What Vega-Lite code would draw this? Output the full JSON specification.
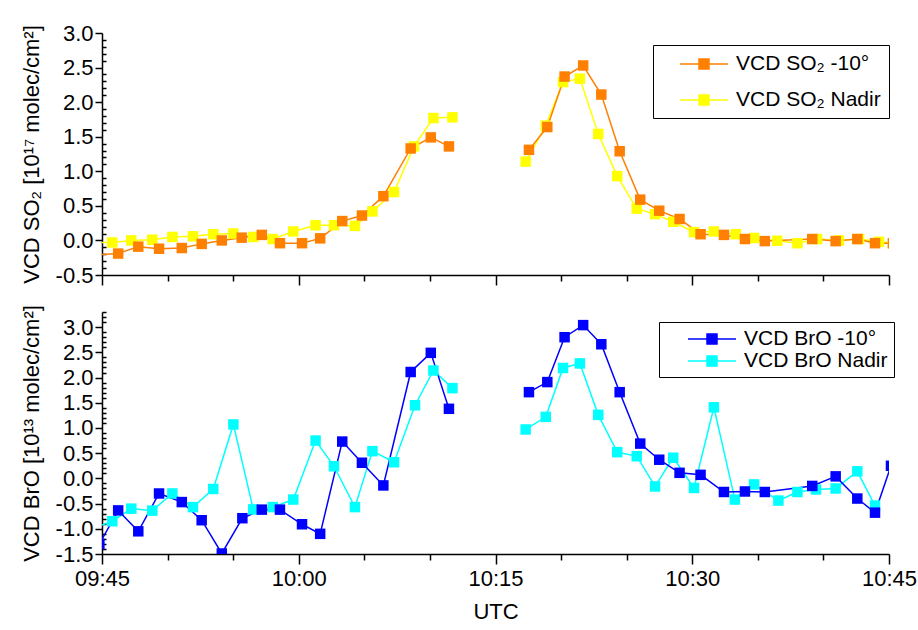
{
  "$schema": "https://vega.github.io/schema/vega-lite/v6.json",
  "background": "white",
  "padding": {"left": 20, "top": 22, "right": 5, "bottom": 5},
  "spacing": 15,
  "config": {
    "view": {"stroke": null},
    "font": "Liberation Sans",
    "axis": {
      "domainColor": "black", "domainWidth": 1.5, "tickColor": "black", "tickWidth": 1.5,
      "labelColor": "black", "titleColor": "black", "labelFontSize": 22, "titleFontSize": 22,
      "titleFontWeight": "normal", "labelFont": "Liberation Sans", "titleFont": "Liberation Sans",
      "grid": false, "labelOverlap": false, "labelFlush": false, "labelBound": false
    },
    "legend": {
      "labelFont": "Liberation Sans", "labelFontSize": 21, "labelColor": "black", "labelLimit": 400,
      "strokeColor": "black", "fillColor": "white", "padding": 8, "orient": "none",
      "symbolType": "M-2.4,0H-0.5M0.5,0H2.4M-0.5,-0.5H0.5V0.5H-0.5Z", "symbolSize": 400,
      "symbolStrokeWidth": 1.5, "symbolOpacity": 1, "symbolOffset": 32, "labelOffset": 21
    }
  },
  "datasets": {
    "so2": [
      {"s":"VCD SO₂ Nadir","g":1,"t":"2024-01-01T09:44:30","v":-0.03},
      {"s":"VCD SO₂ Nadir","g":1,"t":"2024-01-01T09:45:47","v":-0.03},
      {"s":"VCD SO₂ Nadir","g":1,"t":"2024-01-01T09:47:14","v":0.0},
      {"s":"VCD SO₂ Nadir","g":1,"t":"2024-01-01T09:48:50","v":0.01},
      {"s":"VCD SO₂ Nadir","g":1,"t":"2024-01-01T09:50:22","v":0.05},
      {"s":"VCD SO₂ Nadir","g":1,"t":"2024-01-01T09:51:56","v":0.06},
      {"s":"VCD SO₂ Nadir","g":1,"t":"2024-01-01T09:53:29","v":0.09},
      {"s":"VCD SO₂ Nadir","g":1,"t":"2024-01-01T09:55:01","v":0.10},
      {"s":"VCD SO₂ Nadir","g":1,"t":"2024-01-01T09:56:32","v":0.05},
      {"s":"VCD SO₂ Nadir","g":1,"t":"2024-01-01T09:58:01","v":0.02},
      {"s":"VCD SO₂ Nadir","g":1,"t":"2024-01-01T09:59:35","v":0.13},
      {"s":"VCD SO₂ Nadir","g":1,"t":"2024-01-01T10:01:17","v":0.22},
      {"s":"VCD SO₂ Nadir","g":1,"t":"2024-01-01T10:02:41","v":0.22},
      {"s":"VCD SO₂ Nadir","g":1,"t":"2024-01-01T10:04:17","v":0.21},
      {"s":"VCD SO₂ Nadir","g":1,"t":"2024-01-01T10:05:37","v":0.42},
      {"s":"VCD SO₂ Nadir","g":1,"t":"2024-01-01T10:07:16","v":0.70},
      {"s":"VCD SO₂ Nadir","g":1,"t":"2024-01-01T10:08:47","v":1.36},
      {"s":"VCD SO₂ Nadir","g":1,"t":"2024-01-01T10:10:16","v":1.77},
      {"s":"VCD SO₂ Nadir","g":1,"t":"2024-01-01T10:11:43","v":1.78},
      {"s":"VCD SO₂ Nadir","g":2,"t":"2024-01-01T10:17:18","v":1.14},
      {"s":"VCD SO₂ Nadir","g":2,"t":"2024-01-01T10:18:50","v":1.66},
      {"s":"VCD SO₂ Nadir","g":2,"t":"2024-01-01T10:20:09","v":2.29},
      {"s":"VCD SO₂ Nadir","g":2,"t":"2024-01-01T10:21:26","v":2.34},
      {"s":"VCD SO₂ Nadir","g":2,"t":"2024-01-01T10:22:50","v":1.54},
      {"s":"VCD SO₂ Nadir","g":2,"t":"2024-01-01T10:24:17","v":0.93},
      {"s":"VCD SO₂ Nadir","g":2,"t":"2024-01-01T10:25:46","v":0.46},
      {"s":"VCD SO₂ Nadir","g":2,"t":"2024-01-01T10:27:10","v":0.38},
      {"s":"VCD SO₂ Nadir","g":2,"t":"2024-01-01T10:28:33","v":0.27},
      {"s":"VCD SO₂ Nadir","g":2,"t":"2024-01-01T10:30:08","v":0.12},
      {"s":"VCD SO₂ Nadir","g":2,"t":"2024-01-01T10:31:39","v":0.13},
      {"s":"VCD SO₂ Nadir","g":2,"t":"2024-01-01T10:33:19","v":0.09},
      {"s":"VCD SO₂ Nadir","g":2,"t":"2024-01-01T10:34:43","v":0.035},
      {"s":"VCD SO₂ Nadir","g":2,"t":"2024-01-01T10:36:29","v":-0.005},
      {"s":"VCD SO₂ Nadir","g":2,"t":"2024-01-01T10:38:01","v":-0.04},
      {"s":"VCD SO₂ Nadir","g":2,"t":"2024-01-01T10:39:31","v":0.02},
      {"s":"VCD SO₂ Nadir","g":2,"t":"2024-01-01T10:41:11","v":0.0},
      {"s":"VCD SO₂ Nadir","g":2,"t":"2024-01-01T10:42:43","v":0.02},
      {"s":"VCD SO₂ Nadir","g":2,"t":"2024-01-01T10:44:14","v":-0.02},
      {"s":"VCD SO₂ Nadir","g":2,"t":"2024-01-01T10:45:18","v":-0.04},
      {"s":"VCD SO₂ -10°","g":1,"t":"2024-01-01T09:44:30","v":-0.21},
      {"s":"VCD SO₂ -10°","g":1,"t":"2024-01-01T09:46:14","v":-0.19},
      {"s":"VCD SO₂ -10°","g":1,"t":"2024-01-01T09:47:46","v":-0.09},
      {"s":"VCD SO₂ -10°","g":1,"t":"2024-01-01T09:49:21","v":-0.12},
      {"s":"VCD SO₂ -10°","g":1,"t":"2024-01-01T09:51:05","v":-0.11},
      {"s":"VCD SO₂ -10°","g":1,"t":"2024-01-01T09:52:36","v":-0.05},
      {"s":"VCD SO₂ -10°","g":1,"t":"2024-01-01T09:54:08","v":0.0},
      {"s":"VCD SO₂ -10°","g":1,"t":"2024-01-01T09:55:39","v":0.04},
      {"s":"VCD SO₂ -10°","g":1,"t":"2024-01-01T09:57:11","v":0.08},
      {"s":"VCD SO₂ -10°","g":1,"t":"2024-01-01T09:58:34","v":-0.04},
      {"s":"VCD SO₂ -10°","g":1,"t":"2024-01-01T10:00:15","v":-0.04},
      {"s":"VCD SO₂ -10°","g":1,"t":"2024-01-01T10:01:38","v":0.03},
      {"s":"VCD SO₂ -10°","g":1,"t":"2024-01-01T10:03:19","v":0.28},
      {"s":"VCD SO₂ -10°","g":1,"t":"2024-01-01T10:04:49","v":0.36},
      {"s":"VCD SO₂ -10°","g":1,"t":"2024-01-01T10:06:27","v":0.64},
      {"s":"VCD SO₂ -10°","g":1,"t":"2024-01-01T10:08:32","v":1.33},
      {"s":"VCD SO₂ -10°","g":1,"t":"2024-01-01T10:10:04","v":1.49},
      {"s":"VCD SO₂ -10°","g":1,"t":"2024-01-01T10:11:27","v":1.36},
      {"s":"VCD SO₂ -10°","g":2,"t":"2024-01-01T10:17:33","v":1.31},
      {"s":"VCD SO₂ -10°","g":2,"t":"2024-01-01T10:18:57","v":1.64},
      {"s":"VCD SO₂ -10°","g":2,"t":"2024-01-01T10:20:16","v":2.37},
      {"s":"VCD SO₂ -10°","g":2,"t":"2024-01-01T10:21:41","v":2.53},
      {"s":"VCD SO₂ -10°","g":2,"t":"2024-01-01T10:23:04","v":2.11},
      {"s":"VCD SO₂ -10°","g":2,"t":"2024-01-01T10:24:28","v":1.29},
      {"s":"VCD SO₂ -10°","g":2,"t":"2024-01-01T10:26:02","v":0.59},
      {"s":"VCD SO₂ -10°","g":2,"t":"2024-01-01T10:27:29","v":0.43},
      {"s":"VCD SO₂ -10°","g":2,"t":"2024-01-01T10:29:02","v":0.31},
      {"s":"VCD SO₂ -10°","g":2,"t":"2024-01-01T10:30:38","v":0.09},
      {"s":"VCD SO₂ -10°","g":2,"t":"2024-01-01T10:32:25","v":0.08},
      {"s":"VCD SO₂ -10°","g":2,"t":"2024-01-01T10:34:01","v":0.02},
      {"s":"VCD SO₂ -10°","g":2,"t":"2024-01-01T10:35:32","v":-0.01},
      {"s":"VCD SO₂ -10°","g":2,"t":"2024-01-01T10:39:09","v":0.02},
      {"s":"VCD SO₂ -10°","g":2,"t":"2024-01-01T10:40:56","v":-0.01},
      {"s":"VCD SO₂ -10°","g":2,"t":"2024-01-01T10:42:35","v":0.02},
      {"s":"VCD SO₂ -10°","g":2,"t":"2024-01-01T10:43:56","v":-0.04},
      {"s":"VCD SO₂ -10°","g":2,"t":"2024-01-01T10:45:18","v":-0.04}
    ],
    "bro": [
      {"s":"VCD BrO Nadir","g":1,"t":"2024-01-01T09:44:30","v":-0.97},
      {"s":"VCD BrO Nadir","g":1,"t":"2024-01-01T09:45:47","v":-0.85},
      {"s":"VCD BrO Nadir","g":1,"t":"2024-01-01T09:47:14","v":-0.60},
      {"s":"VCD BrO Nadir","g":1,"t":"2024-01-01T09:48:50","v":-0.64},
      {"s":"VCD BrO Nadir","g":1,"t":"2024-01-01T09:50:22","v":-0.30},
      {"s":"VCD BrO Nadir","g":1,"t":"2024-01-01T09:51:56","v":-0.57},
      {"s":"VCD BrO Nadir","g":1,"t":"2024-01-01T09:53:29","v":-0.21},
      {"s":"VCD BrO Nadir","g":1,"t":"2024-01-01T09:55:01","v":1.07},
      {"s":"VCD BrO Nadir","g":1,"t":"2024-01-01T09:56:32","v":-0.615},
      {"s":"VCD BrO Nadir","g":1,"t":"2024-01-01T09:58:01","v":-0.57},
      {"s":"VCD BrO Nadir","g":1,"t":"2024-01-01T09:59:35","v":-0.42},
      {"s":"VCD BrO Nadir","g":1,"t":"2024-01-01T10:01:17","v":0.75},
      {"s":"VCD BrO Nadir","g":1,"t":"2024-01-01T10:02:41","v":0.24},
      {"s":"VCD BrO Nadir","g":1,"t":"2024-01-01T10:04:17","v":-0.57},
      {"s":"VCD BrO Nadir","g":1,"t":"2024-01-01T10:05:37","v":0.54},
      {"s":"VCD BrO Nadir","g":1,"t":"2024-01-01T10:07:16","v":0.32},
      {"s":"VCD BrO Nadir","g":1,"t":"2024-01-01T10:08:52","v":1.45},
      {"s":"VCD BrO Nadir","g":1,"t":"2024-01-01T10:10:16","v":2.14},
      {"s":"VCD BrO Nadir","g":1,"t":"2024-01-01T10:11:43","v":1.79},
      {"s":"VCD BrO Nadir","g":2,"t":"2024-01-01T10:17:18","v":0.97},
      {"s":"VCD BrO Nadir","g":2,"t":"2024-01-01T10:18:50","v":1.22},
      {"s":"VCD BrO Nadir","g":2,"t":"2024-01-01T10:20:09","v":2.19},
      {"s":"VCD BrO Nadir","g":2,"t":"2024-01-01T10:21:26","v":2.28},
      {"s":"VCD BrO Nadir","g":2,"t":"2024-01-01T10:22:50","v":1.26},
      {"s":"VCD BrO Nadir","g":2,"t":"2024-01-01T10:24:17","v":0.52},
      {"s":"VCD BrO Nadir","g":2,"t":"2024-01-01T10:25:46","v":0.44},
      {"s":"VCD BrO Nadir","g":2,"t":"2024-01-01T10:27:10","v":-0.16},
      {"s":"VCD BrO Nadir","g":2,"t":"2024-01-01T10:28:33","v":0.41},
      {"s":"VCD BrO Nadir","g":2,"t":"2024-01-01T10:30:08","v":-0.19},
      {"s":"VCD BrO Nadir","g":2,"t":"2024-01-01T10:31:39","v":1.41},
      {"s":"VCD BrO Nadir","g":2,"t":"2024-01-01T10:33:15","v":-0.42},
      {"s":"VCD BrO Nadir","g":2,"t":"2024-01-01T10:34:43","v":-0.12},
      {"s":"VCD BrO Nadir","g":2,"t":"2024-01-01T10:36:34","v":-0.44},
      {"s":"VCD BrO Nadir","g":2,"t":"2024-01-01T10:38:01","v":-0.27},
      {"s":"VCD BrO Nadir","g":2,"t":"2024-01-01T10:39:26","v":-0.22},
      {"s":"VCD BrO Nadir","g":2,"t":"2024-01-01T10:40:56","v":-0.20},
      {"s":"VCD BrO Nadir","g":2,"t":"2024-01-01T10:42:35","v":0.14},
      {"s":"VCD BrO Nadir","g":2,"t":"2024-01-01T10:43:56","v":-0.54},
      {"s":"VCD BrO -10°","g":1,"t":"2024-01-01T09:44:48","v":-1.3},
      {"s":"VCD BrO -10°","g":1,"t":"2024-01-01T09:46:14","v":-0.635},
      {"s":"VCD BrO -10°","g":1,"t":"2024-01-01T09:47:46","v":-1.05},
      {"s":"VCD BrO -10°","g":1,"t":"2024-01-01T09:49:21","v":-0.30},
      {"s":"VCD BrO -10°","g":1,"t":"2024-01-01T09:51:05","v":-0.47},
      {"s":"VCD BrO -10°","g":1,"t":"2024-01-01T09:52:36","v":-0.83},
      {"s":"VCD BrO -10°","g":1,"t":"2024-01-01T09:54:08","v":-1.49},
      {"s":"VCD BrO -10°","g":1,"t":"2024-01-01T09:55:42","v":-0.79},
      {"s":"VCD BrO -10°","g":1,"t":"2024-01-01T09:57:11","v":-0.62},
      {"s":"VCD BrO -10°","g":1,"t":"2024-01-01T09:58:34","v":-0.62},
      {"s":"VCD BrO -10°","g":1,"t":"2024-01-01T10:00:15","v":-0.91},
      {"s":"VCD BrO -10°","g":1,"t":"2024-01-01T10:01:38","v":-1.10},
      {"s":"VCD BrO -10°","g":1,"t":"2024-01-01T10:03:19","v":0.73},
      {"s":"VCD BrO -10°","g":1,"t":"2024-01-01T10:04:49","v":0.31},
      {"s":"VCD BrO -10°","g":1,"t":"2024-01-01T10:06:27","v":-0.14},
      {"s":"VCD BrO -10°","g":1,"t":"2024-01-01T10:08:32","v":2.11},
      {"s":"VCD BrO -10°","g":1,"t":"2024-01-01T10:10:04","v":2.49},
      {"s":"VCD BrO -10°","g":1,"t":"2024-01-01T10:11:27","v":1.38},
      {"s":"VCD BrO -10°","g":2,"t":"2024-01-01T10:17:33","v":1.71},
      {"s":"VCD BrO -10°","g":2,"t":"2024-01-01T10:18:57","v":1.91},
      {"s":"VCD BrO -10°","g":2,"t":"2024-01-01T10:20:16","v":2.80},
      {"s":"VCD BrO -10°","g":2,"t":"2024-01-01T10:21:41","v":3.04},
      {"s":"VCD BrO -10°","g":2,"t":"2024-01-01T10:23:04","v":2.66},
      {"s":"VCD BrO -10°","g":2,"t":"2024-01-01T10:24:28","v":1.71},
      {"s":"VCD BrO -10°","g":2,"t":"2024-01-01T10:26:02","v":0.69},
      {"s":"VCD BrO -10°","g":2,"t":"2024-01-01T10:27:29","v":0.37},
      {"s":"VCD BrO -10°","g":2,"t":"2024-01-01T10:29:02","v":0.11},
      {"s":"VCD BrO -10°","g":2,"t":"2024-01-01T10:30:38","v":0.07},
      {"s":"VCD BrO -10°","g":2,"t":"2024-01-01T10:32:25","v":-0.27},
      {"s":"VCD BrO -10°","g":2,"t":"2024-01-01T10:34:01","v":-0.26},
      {"s":"VCD BrO -10°","g":2,"t":"2024-01-01T10:35:32","v":-0.27},
      {"s":"VCD BrO -10°","g":2,"t":"2024-01-01T10:39:09","v":-0.15},
      {"s":"VCD BrO -10°","g":2,"t":"2024-01-01T10:40:56","v":0.04},
      {"s":"VCD BrO -10°","g":2,"t":"2024-01-01T10:42:35","v":-0.40},
      {"s":"VCD BrO -10°","g":2,"t":"2024-01-01T10:43:56","v":-0.68},
      {"s":"VCD BrO -10°","g":2,"t":"2024-01-01T10:45:09","v":0.25}
    ]
  },
  "vconcat": [
    {
      "width": 787, "height": 242,
      "data": {"name": "so2"},
      "encoding": {
        "x": {"field": "t", "type": "temporal",
          "scale": {"domain": [{"year":2024,"month":1,"date":1,"hours":9,"minutes":45},{"year":2024,"month":1,"date":1,"hours":10,"minutes":45}]},
          "axis": {"title": null, "labels": false,
            "values": [{"year":2024,"month":1,"date":1,"hours":9,"minutes":45},{"year":2024,"month":1,"date":1,"hours":9,"minutes":50},{"year":2024,"month":1,"date":1,"hours":9,"minutes":55},{"year":2024,"month":1,"date":1,"hours":10,"minutes":0},{"year":2024,"month":1,"date":1,"hours":10,"minutes":5},{"year":2024,"month":1,"date":1,"hours":10,"minutes":10},{"year":2024,"month":1,"date":1,"hours":10,"minutes":15},{"year":2024,"month":1,"date":1,"hours":10,"minutes":20},{"year":2024,"month":1,"date":1,"hours":10,"minutes":25},{"year":2024,"month":1,"date":1,"hours":10,"minutes":30},{"year":2024,"month":1,"date":1,"hours":10,"minutes":35},{"year":2024,"month":1,"date":1,"hours":10,"minutes":40},{"year":2024,"month":1,"date":1,"hours":10,"minutes":45}],
            "tickSize": {"condition": {"test": "minutes(datum.value) % 15 === 0", "value": 10}, "value": 6}}},
        "y": {"field": "v", "type": "quantitative",
          "scale": {"domain": [-0.5, 3.0], "nice": false, "zero": false},
          "axis": {"title": "VCD SO₂ [10¹⁷ molec/cm²]", "titlePadding": 12,
            "values": [-0.5,-0.4,-0.3,-0.2,-0.1,0,0.1,0.2,0.3,0.4,0.5,0.6,0.7,0.8,0.9,1.0,1.1,1.2,1.3,1.4,1.5,1.6,1.7,1.8,1.9,2.0,2.1,2.2,2.3,2.4,2.5,2.6,2.7,2.8,2.9,3.0],
            "labelExpr": "round(datum.value*10) % 5 === 0 ? (datum.value < -0.001 ? '-' : '') + format(abs(datum.value), '.1f') : ''",
            "tickSize": {"condition": {"test": "round(datum.value*10) % 5 === 0", "value": 7}, "value": -4}}},
        "color": {"field": "s", "type": "nominal",
          "scale": {"domain": ["VCD SO₂ -10°", "VCD SO₂ Nadir"], "range": ["#ff8000", "#ffff00"]},
          "legend": {"title": null, "orient": "none", "legendX": 551, "legendY": 12, "rowPadding": 15,
            "encode": {"symbols": {"update": {
              "fill": {"signal": "datum.value === 'VCD SO₂ -10°' ? '#ff8000' : '#ffff00'"},
              "stroke": {"signal": "datum.value === 'VCD SO₂ -10°' ? '#ff8000' : '#ffff00'"}}}}}}
      },
      "layer": [
        {"mark": {"type": "line", "strokeWidth": 1.5, "clip": true}, "encoding": {"detail": {"field": "g", "type": "nominal"}}},
        {"mark": {"type": "point", "shape": "square", "filled": true, "size": 110, "opacity": 1, "clip": true}}
      ]
    },
    {
      "width": 787, "height": 242,
      "data": {"name": "bro"},
      "encoding": {
        "x": {"field": "t", "type": "temporal",
          "scale": {"domain": [{"year":2024,"month":1,"date":1,"hours":9,"minutes":45},{"year":2024,"month":1,"date":1,"hours":10,"minutes":45}]},
          "axis": {"title": "UTC", "titlePadding": 12, "labelPadding": 4,
            "values": [{"year":2024,"month":1,"date":1,"hours":9,"minutes":45},{"year":2024,"month":1,"date":1,"hours":9,"minutes":50},{"year":2024,"month":1,"date":1,"hours":9,"minutes":55},{"year":2024,"month":1,"date":1,"hours":10,"minutes":0},{"year":2024,"month":1,"date":1,"hours":10,"minutes":5},{"year":2024,"month":1,"date":1,"hours":10,"minutes":10},{"year":2024,"month":1,"date":1,"hours":10,"minutes":15},{"year":2024,"month":1,"date":1,"hours":10,"minutes":20},{"year":2024,"month":1,"date":1,"hours":10,"minutes":25},{"year":2024,"month":1,"date":1,"hours":10,"minutes":30},{"year":2024,"month":1,"date":1,"hours":10,"minutes":35},{"year":2024,"month":1,"date":1,"hours":10,"minutes":40},{"year":2024,"month":1,"date":1,"hours":10,"minutes":45}],
            "labelExpr": "minutes(datum.value) % 15 === 0 ? timeFormat(datum.value, '%H:%M') : ''",
            "tickSize": {"condition": {"test": "minutes(datum.value) % 15 === 0", "value": 10}, "value": 6}}},
        "y": {"field": "v", "type": "quantitative",
          "scale": {"domain": [-1.5, 3.3], "nice": false, "zero": false},
          "axis": {"title": "VCD BrO [10¹³ molec/cm²]", "titlePadding": 12,
            "values": [-1.5,-1.4,-1.3,-1.2,-1.1,-1.0,-0.9,-0.8,-0.7,-0.6,-0.5,-0.4,-0.3,-0.2,-0.1,0,0.1,0.2,0.3,0.4,0.5,0.6,0.7,0.8,0.9,1.0,1.1,1.2,1.3,1.4,1.5,1.6,1.7,1.8,1.9,2.0,2.1,2.2,2.3,2.4,2.5,2.6,2.7,2.8,2.9,3.0,3.1,3.2,3.3],
            "labelExpr": "round(datum.value*10) % 5 === 0 ? (datum.value < -0.001 ? '-' : '') + format(abs(datum.value), '.1f') : ''",
            "tickSize": {"condition": {"test": "round(datum.value*10) % 5 === 0", "value": 7}, "value": -4}}},
        "color": {"field": "s", "type": "nominal",
          "scale": {"domain": ["VCD BrO -10°", "VCD BrO Nadir"], "range": ["#0000ff", "#00ffff"]},
          "legend": {"title": null, "orient": "none", "legendX": 557, "legendY": 10, "rowPadding": 1, "symbolOffset": 36, "padding": 6,
            "encode": {"symbols": {"update": {
              "fill": {"signal": "datum.value === 'VCD BrO -10°' ? '#0000ff' : '#00ffff'"},
              "stroke": {"signal": "datum.value === 'VCD BrO -10°' ? '#0000ff' : '#00ffff'"}}}}}}
      },
      "layer": [
        {"mark": {"type": "line", "strokeWidth": 1.5, "clip": true}, "encoding": {"detail": {"field": "g", "type": "nominal"}}},
        {"mark": {"type": "point", "shape": "square", "filled": true, "size": 110, "opacity": 1, "clip": true}}
      ]
    }
  ],
  "resolve": {"scale": {"color": "independent", "x": "independent", "y": "independent"}, "legend": {"color": "independent"}}
}
